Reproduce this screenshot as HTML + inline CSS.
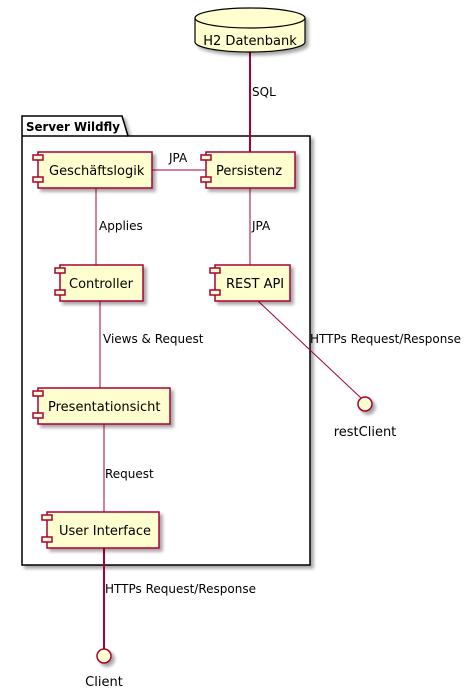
<!DOCTYPE html>
<html><head><meta charset="utf-8"><style>body{margin:0;background:#fff}svg{display:block}text{font-family:"DejaVu Sans","Liberation Sans",sans-serif;fill:#000}</style></head>
<body>
<svg width="471" height="698" viewBox="0 0 471 698" xmlns="http://www.w3.org/2000/svg">
<defs><filter id="sh" x="-10%" y="-10%" width="130%" height="140%"><feDropShadow dx="3" dy="3" stdDeviation="1.5" flood-color="#000" flood-opacity="0.35"/></filter></defs>
<!-- package -->
<g filter="url(#sh)">
<path d="M22,116 L122,116 L128,136 L310,136 L310,565 L22,565 Z" fill="#fff" stroke="#000" stroke-width="1.5"/>
</g>
<line x1="22" y1="136" x2="128" y2="136" stroke="#000" stroke-width="1.5"/>
<text x="26" y="131" font-size="12" font-weight="bold" textLength="94" lengthAdjust="spacingAndGlyphs">Server Wildfly</text>
<!-- connectors -->
<g stroke="#A80036" fill="none">
<line x1="250" y1="52" x2="250" y2="152" stroke-width="2"/>
<line x1="152" y1="170" x2="206" y2="170" stroke-width="1"/>
<line x1="96" y1="188" x2="96" y2="265"/>
<line x1="250" y1="188" x2="250" y2="265"/>
<line x1="100" y1="301" x2="100" y2="388"/>
<line x1="104" y1="424" x2="104" y2="512"/>
<line x1="104" y1="548" x2="104" y2="649" stroke-width="2"/>
<line x1="258" y1="301" x2="361" y2="398"/>
</g>
<g font-size="12">
<text x="252" y="96">SQL</text>
<text x="169" y="162">JPA</text>
<text x="99" y="230">Applies</text>
<text x="252" y="230">JPA</text>
<text x="103" y="343">Views &amp; Request</text>
<text x="310" y="343">HTTPs Request/Response</text>
<text x="105" y="478">Request</text>
<text x="105" y="593">HTTPs Request/Response</text>
</g>
<!-- database -->
<g filter="url(#sh)">
<path d="M195,18 L195,42 A55,10 0 0 0 305,42 L305,18 A55,10 0 0 0 195,18 Z" fill="#FEFECE" stroke="#000" stroke-width="1.2"/>
</g>
<path d="M195,18 A55,10 0 0 0 305,18" fill="none" stroke="#000" stroke-width="1.2"/>
<text x="250" y="45" font-size="13" text-anchor="middle">H2 Datenbank</text>
<!-- components -->
<g fill="#FEFECE" stroke="#A80036" stroke-width="1.5">
<g filter="url(#sh)">
<rect x="38" y="152" width="114" height="36"/>
<rect x="206" y="152" width="89" height="36"/>
<rect x="60" y="265" width="83" height="36"/>
<rect x="215" y="265" width="75" height="36"/>
<rect x="38" y="388" width="132" height="36"/>
<rect x="47" y="512" width="112" height="36"/>
<circle cx="104" cy="656" r="7"/>
<circle cx="365" cy="404" r="7"/>
</g>
<rect x="33" y="155" width="10" height="5"/><rect x="33" y="177" width="10" height="5"/>
<rect x="201" y="155" width="10" height="5"/><rect x="201" y="177" width="10" height="5"/>
<rect x="55" y="268" width="10" height="5"/><rect x="55" y="290" width="10" height="5"/>
<rect x="210" y="268" width="10" height="5"/><rect x="210" y="290" width="10" height="5"/>
<rect x="33" y="391" width="10" height="5"/><rect x="33" y="413" width="10" height="5"/>
<rect x="42" y="515" width="10" height="5"/><rect x="42" y="537" width="10" height="5"/>
</g>
<g font-size="13">
<text x="49" y="175">Geschäftslogik</text>
<text x="216" y="175">Persistenz</text>
<text x="69" y="288">Controller</text>
<text x="226" y="288">REST API</text>
<text x="48" y="411">Presentationsicht</text>
<text x="59" y="535">User Interface</text>
<text x="104" y="686" text-anchor="middle">Client</text>
<text x="365" y="436" text-anchor="middle">restClient</text>
</g>
</svg>
</body></html>
